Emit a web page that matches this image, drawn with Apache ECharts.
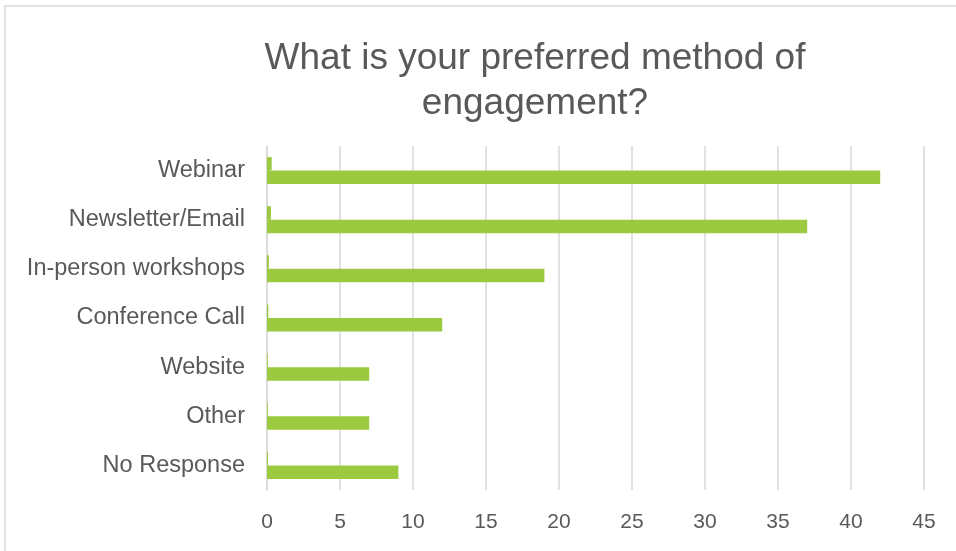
<!DOCTYPE html>
<html>
<head>
<meta charset="utf-8">
<script src="https://cdn.jsdelivr.net/npm/echarts@6/dist/echarts.min.js"></script>
<style>
html,body{margin:0;padding:0;background:#fff;}
#chart{width:956px;height:551px;}
</style>
</head>
<body>
<div id="chart"></div>
<script>
const categories = ['Webinar', 'Newsletter/Email', 'In-person workshops', 'Conference Call', 'Website', 'Other', 'No Response'];
const countValues = [42, 37, 19, 12, 7, 7, 9];
const shareValues = [0.32, 0.27, 0.13, 0.09, 0.05, 0.05, 0.07];
const xTicks = [0, 5, 10, 15, 20, 25, 30, 35, 40, 45];

const grey = '#595959';
const font = 'Liberation Sans, Arial, sans-serif';
const green = '#9BC93F';

const chart = echarts.init(document.getElementById('chart'), null, {renderer: 'canvas'});
chart.setOption({
  animation: false,
  backgroundColor: '#ffffff',
  title: {
    text: 'What is your preferred method of\nengagement?',
    left: 530,
    top: 31,
    textAlign: 'center',
    textStyle: {fontSize: 37, fontWeight: 'normal', color: grey, fontFamily: font, lineHeight: 45}
  },
  graphic: [{
    type: 'rect',
    shape: {x: 5, y: 6, width: 1200, height: 1200},
    style: {fill: 'none', stroke: '#d9d9d9', lineWidth: 1.5},
    silent: true
  }],
  grid: {left: 267, right: 32, top: 146, bottom: 61, containLabel: false},
  xAxis: {
    type: 'value',
    min: xTicks[0],
    max: xTicks[xTicks.length - 1],
    interval: 5,
    axisLine: {show: false},
    axisTick: {show: false},
    splitLine: {show: true, lineStyle: {color: '#d9d9d9', width: 1.5}},
    axisLabel: {fontSize: 21, color: grey, fontFamily: font, margin: 22}
  },
  yAxis: {
    type: 'category',
    inverse: true,
    data: categories,
    axisLine: {show: true, lineStyle: {color: '#d9d9d9', width: 1.5}},
    axisTick: {show: false},
    axisLabel: {fontSize: 23.5, color: grey, fontFamily: font, margin: 22}
  },
  series: [
    {
      name: 'Share',
      type: 'bar',
      data: shareValues,
      barWidth: 13.5,
      barGap: '0%',
      itemStyle: {color: green}
    },
    {
      name: 'Count',
      type: 'bar',
      data: countValues,
      barWidth: 13.5,
      barGap: '0%',
      itemStyle: {color: green}
    }
  ]
});
</script>
</body>
</html>
